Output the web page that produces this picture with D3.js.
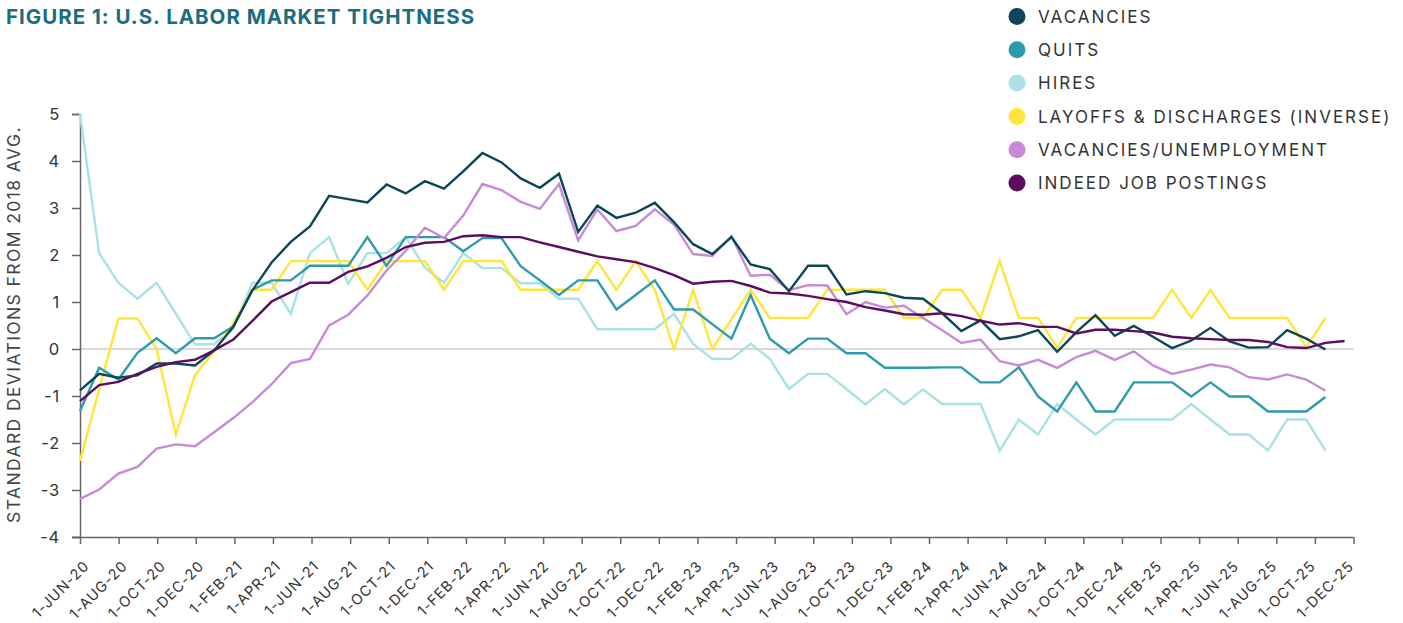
<!DOCTYPE html>
<html lang="en">
<head>
<meta charset="UTF-8">
<title>U.S. labor market tightness</title>
<script src="https://cdn.jsdelivr.net/npm/d3@7"></script>
<style>
  body { margin: 0; background: #fff; font-family: Inter, "Open Sans", sans-serif; }
</style>
</head>
<body>
<svg id="viz"></svg>
<script>
// monthly, from 1-JUN-20; JOLTS series stop at Nov-25, Indeed runs to Dec-25
const vacancies = [-0.88,-0.53,-0.61,-0.56,-0.31,-0.31,-0.35,-0.03,0.47,1.25,
  1.84,2.28,2.61,3.26,3.19,3.12,3.50,3.31,3.57,3.41,
  3.78,4.17,3.97,3.63,3.43,3.73,2.49,3.05,2.79,2.90,
  3.11,2.70,2.23,2.02,2.38,1.80,1.70,1.23,1.77,1.77,
  1.16,1.23,1.19,1.09,1.07,0.76,0.38,0.61,0.21,0.27,
  0.40,-0.06,0.36,0.72,0.28,0.49,0.26,0.02,0.18,0.45,
  0.16,0.03,0.04,0.40,0.22,-0.01];
const quits = [-1.32,-0.40,-0.65,-0.08,0.23,-0.09,0.23,0.23,0.48,1.26,
  1.46,1.46,1.77,1.77,1.77,2.38,1.77,2.38,2.38,2.38,
  2.08,2.36,2.36,1.76,1.46,1.15,1.46,1.46,0.84,1.15,
  1.46,0.84,0.84,0.53,0.22,1.15,0.22,-0.09,0.22,0.22,
  -0.09,-0.09,-0.40,-0.40,-0.40,-0.39,-0.39,-0.71,-0.71,-0.39,
  -1.01,-1.33,-0.71,-1.33,-1.33,-0.71,-0.71,-0.71,-1.01,-0.71,
  -1.01,-1.01,-1.33,-1.33,-1.33,-1.02];
const hires = [5.00,2.04,1.41,1.07,1.41,0.75,0.10,0.10,0.43,1.41,
  1.41,0.74,2.04,2.38,1.39,2.04,2.04,2.38,1.73,1.41,
  2.04,1.72,1.72,1.40,1.40,1.07,1.07,0.42,0.42,0.42,
  0.42,0.75,0.11,-0.21,-0.21,0.11,-0.21,-0.85,-0.53,-0.53,
  -0.85,-1.18,-0.85,-1.18,-0.86,-1.17,-1.17,-1.17,-2.16,-1.50,
  -1.82,-1.17,-1.50,-1.82,-1.50,-1.50,-1.50,-1.50,-1.17,-1.50,
  -1.82,-1.82,-2.16,-1.50,-1.50,-2.16];
const layoffs = [-2.38,-0.86,0.65,0.65,0.00,-1.82,-0.56,-0.05,0.55,1.26,
  1.26,1.87,1.87,1.87,1.87,1.26,1.87,1.87,1.87,1.26,
  1.87,1.87,1.87,1.26,1.26,1.26,1.26,1.87,1.26,1.87,
  1.26,0.00,1.26,0.00,0.63,1.26,0.66,0.66,0.66,1.26,
  1.26,1.26,1.26,0.66,0.66,1.26,1.26,0.66,1.87,0.66,
  0.66,0.03,0.66,0.66,0.66,0.66,0.66,1.26,0.66,1.26,
  0.66,0.66,0.66,0.66,0.04,0.66];
const vacPerUnemp = [-3.19,-2.99,-2.65,-2.51,-2.12,-2.03,-2.07,-1.77,-1.47,-1.13,
  -0.75,-0.30,-0.21,0.50,0.73,1.14,1.67,2.09,2.58,2.36,
  2.84,3.51,3.38,3.13,2.98,3.51,2.31,2.97,2.51,2.62,
  2.97,2.65,2.02,1.98,2.40,1.56,1.58,1.25,1.36,1.35,
  0.74,1.00,0.88,0.92,0.66,0.40,0.13,0.20,-0.26,-0.35,
  -0.23,-0.40,-0.17,-0.04,-0.23,-0.05,-0.35,-0.53,-0.44,-0.33,
  -0.39,-0.60,-0.65,-0.54,-0.65,-0.89];
const indeed = [-1.11,-0.77,-0.70,-0.53,-0.38,-0.28,-0.23,-0.03,0.20,0.60,
  1.01,1.21,1.41,1.41,1.64,1.76,1.94,2.17,2.26,2.28,
  2.40,2.42,2.38,2.38,2.27,2.17,2.07,1.97,1.91,1.85,
  1.72,1.57,1.39,1.43,1.45,1.34,1.20,1.18,1.13,1.06,
  1.00,0.89,0.82,0.74,0.73,0.76,0.70,0.60,0.52,0.55,
  0.47,0.47,0.33,0.41,0.41,0.38,0.35,0.26,0.23,0.21,
  0.19,0.19,0.15,0.04,0.02,0.13,0.17];

const tickLabels = ["1-JUN-20","1-AUG-20","1-OCT-20","1-DEC-20","1-FEB-21","1-APR-21","1-JUN-21","1-AUG-21",
  "1-OCT-21","1-DEC-21","1-FEB-22","1-APR-22","1-JUN-22","1-AUG-22","1-OCT-22","1-DEC-22","1-FEB-23",
  "1-APR-23","1-JUN-23","1-AUG-23","1-OCT-23","1-DEC-23","1-FEB-24","1-APR-24","1-JUN-24","1-AUG-24",
  "1-OCT-24","1-DEC-24","1-FEB-25","1-APR-25","1-JUN-25","1-AUG-25","1-OCT-25","1-DEC-25"];
const yTicks = [5,4,3,2,1,0,-1,-2,-3,-4];

const series = [
  {name: "HIRES", values: hires, color: "#a9e1e6"},
  {name: "LAYOFFS & DISCHARGES (INVERSE)", values: layoffs, color: "#ffe53b"},
  {name: "QUITS", values: quits, color: "#2e9aad"},
  {name: "VACANCIES/UNEMPLOYMENT", values: vacPerUnemp, color: "#c78bd5"},
  {name: "VACANCIES", values: vacancies, color: "#0c4659"},
  {name: "INDEED JOB POSTINGS", values: indeed, color: "#5b0d5e"}
];
const legendOrder = ["VACANCIES","QUITS","HIRES","LAYOFFS & DISCHARGES (INVERSE)","VACANCIES/UNEMPLOYMENT","INDEED JOB POSTINGS"];

const width = 1403, height = 623;
const plotLeft = 80, plotTop = 114, plotBottom = 537;

const svg = d3.select("#viz").attr("width", width).attr("height", height);

const months = d3.range(indeed.length);
// in the original the data (and the labels) sit a bit tighter than the tick marks
const x = d3.scalePoint().domain(months).range([plotLeft, 1344.6]);
const xTick = d3.scalePoint().domain(tickLabels).range([plotLeft, 1353.5]);
const y = d3.scaleLinear().domain([-4, 5]).range([plotBottom, plotTop]);

svg.append("text")
  .attr("x", 6).attr("y", 24)
  .attr("font-size", 20.5).attr("font-weight", 700)
  .style("letter-spacing", "1px")
  .attr("fill", "#1b6d7f")
  .text("FIGURE 1: U.S. LABOR MARKET TIGHTNESS");

// zero line
svg.append("line")
  .attr("x1", plotLeft).attr("x2", xTick.range()[1])
  .attr("y1", y(0)).attr("y2", y(0))
  .attr("stroke", "#d9d9d9").attr("stroke-width", 2);

const yAxis = svg.append("g")
  .attr("transform", `translate(${plotLeft},0)`)
  .call(d3.axisLeft(y).tickValues(yTicks).tickSize(8).tickPadding(12).tickFormat(d => String(d)));
yAxis.select(".domain").attr("stroke", "#666").attr("stroke-width", 1.5);
yAxis.selectAll(".tick line").attr("stroke", "#666").attr("stroke-width", 1.5);
yAxis.selectAll("text").attr("font-size", 16.5).attr("fill", "#333")
  .attr("font-family", "Inter, sans-serif")
  .style("letter-spacing", "0.8px");

const xAxis = svg.append("g")
  .attr("transform", `translate(0,${plotBottom})`)
  .call(d3.axisBottom(xTick).tickSize(7).tickSizeOuter(0).tickFormat(""));
xAxis.select(".domain").attr("stroke", "#666").attr("stroke-width", 1.5)
  .attr("d", `M${plotLeft - 8},0.5H${xTick.range()[1]}`);
xAxis.selectAll(".tick line").attr("stroke", "#666").attr("stroke-width", 1.5);

// date labels follow the data spacing, every second month
svg.append("g").selectAll("text")
  .data(tickLabels)
  .join("text")
    .attr("transform", (d, i) => `translate(${x(i * 2) + 10},${plotBottom + 30}) rotate(-45)`)
    .attr("text-anchor", "end")
    .attr("font-size", 14.5).attr("fill", "#333")
    .style("letter-spacing", "0.9px")
    .text(d => d);

svg.append("text")
  .attr("transform", `translate(20,${(plotTop + plotBottom) / 2 - 1}) rotate(-90)`)
  .attr("text-anchor", "middle")
  .attr("font-size", 17.5).attr("fill", "#444")
  .style("letter-spacing", "1.4px")
  .text("STANDARD DEVIATIONS FROM 2018 AVG.");

const line = d3.line().x((d, i) => x(i)).y(d => y(d));

svg.append("g").selectAll("path")
  .data(series)
  .join("path")
    .attr("d", d => line(d.values))
    .attr("fill", "none")
    .attr("stroke", d => d.color)
    .attr("stroke-width", 2.4)
    .attr("stroke-linejoin", "miter");

const legend = svg.append("g").selectAll("g")
  .data(legendOrder.map(n => series.find(s => s.name === n)))
  .join("g")
    .attr("transform", (d, i) => `translate(1017,${16.5 + i * 33.3})`);
legend.append("circle").attr("r", 8.5).attr("fill", d => d.color);
legend.append("text")
  .attr("x", 21).attr("dy", "0.36em")
  .attr("font-size", 17).attr("fill", "#333")
  .style("letter-spacing", "2px")
  .text(d => d.name);
</script>
</body>
</html>
